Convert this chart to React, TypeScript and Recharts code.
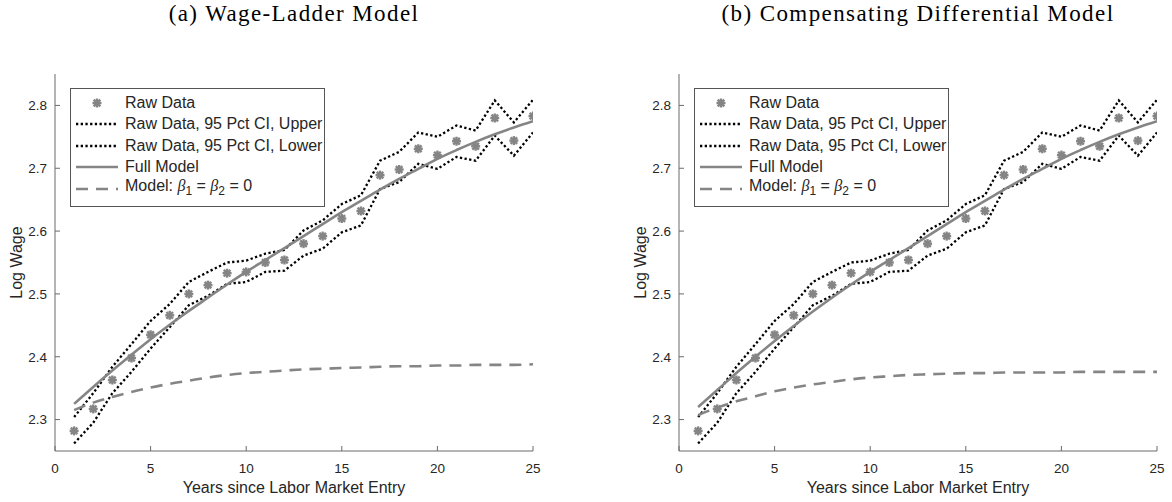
import { Legend, Line, LineChart, XAxis, YAxis } from 'recharts'

const years = [1, 2, 3, 4, 5, 6, 7, 8, 9, 10, 11, 12, 13, 14, 15, 16, 17, 18, 19, 20, 21, 22, 23, 24, 25]
const rawWage = [2.282, 2.317, 2.363, 2.398, 2.435, 2.466, 2.5, 2.514, 2.533, 2.535, 2.55, 2.554, 2.58, 2.592, 2.62, 2.632, 2.689, 2.698, 2.731, 2.721, 2.743, 2.735, 2.78, 2.744, 2.783]
const ciUpper = [2.304, 2.342, 2.384, 2.42, 2.457, 2.484, 2.519, 2.535, 2.55, 2.553, 2.564, 2.57, 2.601, 2.617, 2.643, 2.657, 2.712, 2.726, 2.757, 2.75, 2.768, 2.76, 2.808, 2.773, 2.809]
const ciLower = [2.262, 2.295, 2.342, 2.376, 2.413, 2.447, 2.482, 2.497, 2.516, 2.519, 2.535, 2.537, 2.561, 2.572, 2.598, 2.609, 2.667, 2.678, 2.707, 2.699, 2.718, 2.712, 2.752, 2.72, 2.757]
const fullModelA = [2.325, 2.352, 2.378, 2.403, 2.428, 2.451, 2.473, 2.494, 2.515, 2.535, 2.554, 2.573, 2.592, 2.611, 2.63, 2.648, 2.666, 2.683, 2.699, 2.715, 2.729, 2.742, 2.754, 2.765, 2.775]
const restrictedA = [2.315, 2.327, 2.336, 2.344, 2.351, 2.357, 2.362, 2.367, 2.371, 2.374, 2.376, 2.378, 2.38, 2.381, 2.382, 2.383, 2.384, 2.385, 2.385, 2.386, 2.386, 2.387, 2.387, 2.387, 2.388]
const fullModelB = [2.32, 2.347, 2.374, 2.4, 2.425, 2.449, 2.472, 2.494, 2.515, 2.535, 2.554, 2.573, 2.592, 2.611, 2.63, 2.648, 2.666, 2.683, 2.699, 2.715, 2.729, 2.742, 2.754, 2.765, 2.775]
const restrictedB = [2.307, 2.319, 2.329, 2.337, 2.345, 2.351, 2.356, 2.36, 2.364, 2.367, 2.369, 2.371, 2.372, 2.373, 2.374, 2.374, 2.375, 2.375, 2.375, 2.375, 2.376, 2.376, 2.376, 2.376, 2.376]
const xTicks = [0, 5, 10, 15, 20, 25]
const yTicks = [2.3, 2.4, 2.5, 2.6, 2.7, 2.8]

const GRAY = '#858585'
const AXIS = '#6b6b6b'
const TEXT = '#262626'
const SANS = '"Liberation Sans", Arial, sans-serif'

function Asterisk(props: any) {
  const { cx, cy } = props
  if (cx == null || cy == null) return null
  const r = 4.5
  const d = 3.3
  return (
    <g stroke={GRAY} strokeWidth={2.4}>
      <line x1={cx - r} y1={cy} x2={cx + r} y2={cy} />
      <line x1={cx} y1={cy - r} x2={cx} y2={cy + r} />
      <line x1={cx - d} y1={cy - d} x2={cx + d} y2={cy + d} />
      <line x1={cx - d} y1={cy + d} x2={cx + d} y2={cy - d} />
    </g>
  )
}

function legendSymbol(kind: string) {
  if (kind === 'raw') return <svg width={44} height={12}><Asterisk cx={22} cy={6} /></svg>
  if (kind === 'ci') return <svg width={44} height={12}><line x1={1} y1={6} x2={43} y2={6} stroke="#000" strokeWidth={2.3} strokeDasharray="2.3 2.4" /></svg>
  if (kind === 'full') return <svg width={44} height={12}><line x1={1} y1={6} x2={43} y2={6} stroke={GRAY} strokeWidth={2.6} /></svg>
  return <svg width={44} height={12}><line x1={1} y1={6} x2={43} y2={6} stroke={GRAY} strokeWidth={2.6} strokeDasharray="12 8" /></svg>
}

const beta = { fontFamily: '"Liberation Serif", serif' }
const legendRows = [
  { kind: 'raw', label: <>Raw Data</> },
  { kind: 'ci', label: <>Raw Data, 95 Pct CI, Upper</> },
  { kind: 'ci', label: <>Raw Data, 95 Pct CI, Lower</> },
  { kind: 'full', label: <>Full Model</> },
  { kind: 'restricted', label: <>Model: <i style={beta}>β</i><sub style={{ fontSize: 12 }}>1</sub> = <i style={beta}>β</i><sub style={{ fontSize: 12 }}>2</sub> = 0</> },
]

function renderLegend() {
  return (
    <div style={{ border: '1px solid #555', background: '#fff', padding: '3px 0 6px 0', width: 253, fontFamily: SANS, fontSize: 16, color: TEXT }}>
      {legendRows.map((row, i) => (
        <div key={i} style={{ display: 'flex', alignItems: 'center', height: 21.5, whiteSpace: 'nowrap', lineHeight: '16px' }}>
          <span style={{ marginLeft: 4, marginRight: 6, display: 'flex' }}>{legendSymbol(row.kind)}</span>
          <span>{row.label}</span>
        </div>
      ))}
    </div>
  )
}

function YLabel(props: any) {
  const { viewBox } = props
  const x = viewBox.x + viewBox.width - 33
  const y = viewBox.y + viewBox.height / 2
  return (
    <text x={x} y={y} transform={`rotate(-90 ${x} ${y})`} textAnchor="middle" fontFamily={SANS} fontSize={16} fill={TEXT}>
      Log Wage
    </text>
  )
}

function XLabel(props: any) {
  const { viewBox } = props
  return (
    <text x={viewBox.x + viewBox.width / 2} y={viewBox.y + 42} textAnchor="middle" fontFamily={SANS} fontSize={16} fill={TEXT}>
      Years since Labor Market Entry
    </text>
  )
}

function Panel({ title, full, restricted, x, plotLeft, plotRight }: { title: string; full: number[]; restricted: number[]; x: number; plotLeft: number; plotRight: number }) {
  const data = years.map((year, i) => ({ year, raw: rawWage[i], upper: ciUpper[i], lower: ciLower[i], full: full[i], restricted: restricted[i] }))
  const tickStyle = { fontFamily: SANS, fontSize: 13.5, fill: TEXT }
  return (
    <div style={{ position: 'absolute', left: x, top: 0 }}>
      <div style={{ position: 'absolute', left: plotLeft - 60, width: plotRight - plotLeft + 120, top: 1.5, textAlign: 'center', fontFamily: '"Liberation Serif", serif', fontSize: 23, lineHeight: '23px', letterSpacing: 1.4, color: '#000', whiteSpace: 'nowrap' }}>
        {title}
      </div>
      <LineChart width={586} height={502} data={data} margin={{ top: 74, right: 586 - plotRight, bottom: 21, left: plotLeft - 45 }}>
        <XAxis dataKey="year" type="number" domain={[0, 25]} ticks={xTicks} height={30} tickSize={-5} tickMargin={17} stroke={AXIS} tick={tickStyle} label={<XLabel />} allowDataOverflow />
        <XAxis xAxisId="top" orientation="top" dataKey="year" type="number" domain={[0, 25]} ticks={xTicks} height={0} tickSize={-5} tick={false} stroke={AXIS} allowDataOverflow />
        <YAxis type="number" domain={[2.25, 2.85]} ticks={yTicks} width={45} tickSize={-5} tickMargin={13} stroke={AXIS} tick={tickStyle} label={<YLabel />} allowDataOverflow />
        <YAxis yAxisId="right" orientation="right" type="number" domain={[2.25, 2.85]} ticks={yTicks} width={0} tickSize={-5} tick={false} stroke={AXIS} allowDataOverflow />
        <Legend layout="vertical" align="center" verticalAlign="middle" content={renderLegend} wrapperStyle={{ left: plotLeft + 15, top: 88, width: 'auto', height: 'auto' }} />
        <Line dataKey="upper" type="linear" stroke="#000" strokeWidth={2.3} strokeDasharray="2.3 2.4" dot={false} isAnimationActive={false} />
        <Line dataKey="lower" type="linear" stroke="#000" strokeWidth={2.3} strokeDasharray="2.3 2.4" dot={false} isAnimationActive={false} />
        <Line dataKey="restricted" type="monotone" stroke={GRAY} strokeWidth={2.6} strokeDasharray="12 8" dot={false} isAnimationActive={false} />
        <Line dataKey="full" type="monotone" stroke={GRAY} strokeWidth={2.6} dot={false} isAnimationActive={false} />
        <Line dataKey="raw" stroke="none" dot={<Asterisk />} activeDot={false} isAnimationActive={false} />
      </LineChart>
    </div>
  )
}

export default function App() {
  return (
    <div style={{ position: 'absolute', left: 0, top: 0, width: 1172, height: 502, background: '#fff' }}>
      <Panel title="(a) Wage-Ladder Model" full={fullModelA} restricted={restrictedA} x={0} plotLeft={55} plotRight={533} />
      <Panel title="(b) Compensating Differential Model" full={fullModelB} restricted={restrictedB} x={586} plotLeft={93} plotRight={571} />
    </div>
  )
}
